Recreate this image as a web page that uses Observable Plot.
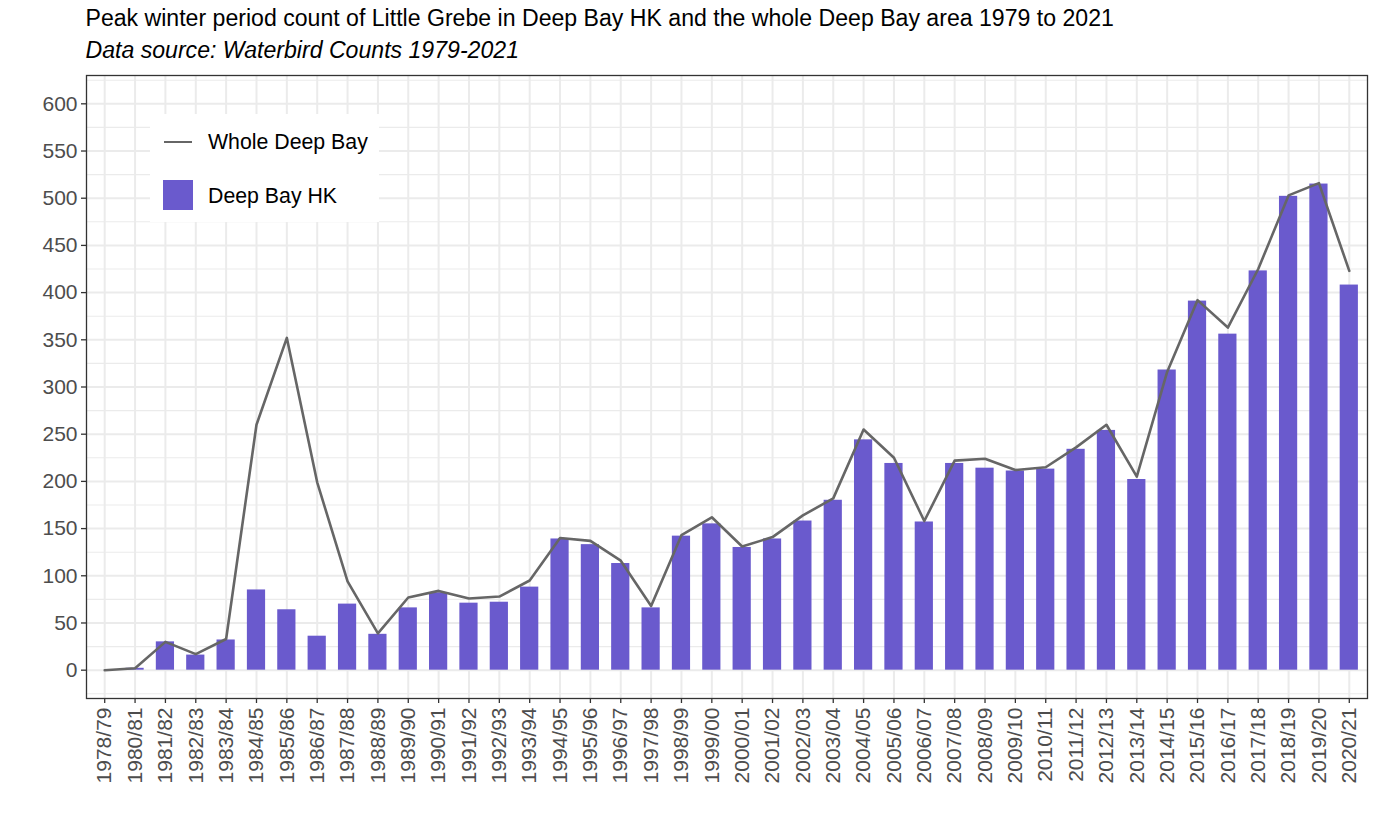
<!DOCTYPE html>
<html>
<head>
<meta charset="utf-8">
<script src="https://cdn.jsdelivr.net/npm/d3@7"></script>
<script src="https://cdn.jsdelivr.net/npm/@observablehq/plot@0.6"></script>
<style>
  html, body { margin: 0; padding: 0; background: #fff; overflow: hidden; }
  #wrap { position: relative; width: 1378px; height: 827px; font-family: "Liberation Sans", Arial, sans-serif; }
  #title { position: absolute; left: 85.5px; top: 7.2px; font-size: 23.1px; line-height: 23px; color: #000; white-space: nowrap; }
  #subtitle { position: absolute; left: 85.5px; top: 38.8px; font-size: 23.1px; line-height: 23px; font-style: italic; color: #000; white-space: nowrap; }
  #chart { position: absolute; left: 0; top: 66px; }
  #legend { position: absolute; left: 150px; top: 114px; width: 229px; height: 108px; background: #fff; }
  .lg-line { position: absolute; left: 14px; top: 26.5px; width: 28px; height: 2.5px; background: #666666; }
  .lg-rect { position: absolute; left: 13px; top: 66px; width: 30px; height: 30px; background: #6A5ACD; }
  .lg-text { position: absolute; left: 58px; font-size: 21.3px; line-height: 21px; color: #000; white-space: nowrap; }
</style>
</head>
<body>
<div id="wrap">
  <div id="title">Peak winter period count of Little Grebe in Deep Bay HK and the whole Deep Bay area 1979 to 2021</div>
  <div id="subtitle">Data source: Waterbird Counts 1979-2021</div>
  <div id="chart"></div>
  <div id="legend">
    <div class="lg-line"></div>
    <div class="lg-text" style="top:17.5px">Whole Deep Bay</div>
    <div class="lg-rect"></div>
    <div class="lg-text" style="top:71.5px">Deep Bay HK</div>
  </div>
</div>
<script>
const seasons = ["1978/79","1980/81","1981/82","1982/83","1983/84","1984/85","1985/86","1986/87","1987/88","1988/89",
  "1989/90","1990/91","1991/92","1992/93","1993/94","1994/95","1995/96","1996/97","1997/98","1998/99",
  "1999/00","2000/01","2001/02","2002/03","2003/04","2004/05","2005/06","2006/07","2007/08","2008/09",
  "2009/10","2010/11","2011/12","2012/13","2013/14","2014/15","2015/16","2016/17","2017/18","2018/19",
  "2019/20","2020/21"];
const deepBayHK = [0,2,30,16,32,85,64,36,70,38,
  66,82,71,72,88,139,133,113,66,142,
  155,130,139,158,180,244,219,157,219,214,
  211,213,234,254,202,318,391,356,423,502,
  515,408];
const wholeDeepBay = [0,2,30,17,33,260,352,199,94,39,
  77,84,76,78,95,140,137,116,68,143,
  162,131,141,164,182,255,225,158,222,224,
  212,215,236,260,205,316,392,363,425,503,
  516,423];
const yMajorTicks = [0,50,100,150,200,250,300,350,400,450,500,550,600];
const yMinorTicks = [-25,25,75,125,175,225,275,325,375,425,475,525,575,625];

const data = seasons.map((s, i) => ({season: s, hk: deepBayHK[i], whole: wholeDeepBay[i]}));

const chart = Plot.plot({
  width: 1378,
  height: 761,
  marginTop: 9,
  marginBottom: 129,
  marginLeft: 86,
  marginRight: 11,
  style: {fontFamily: "Liberation Sans, Arial, sans-serif", background: "transparent"},
  x: {type: "band", domain: seasons, paddingInner: 0.4, paddingOuter: 0.3, round: false, axis: null},
  y: {domain: [-30, 630], axis: null},
  marks: [
    Plot.ruleY(yMinorTicks, {stroke: "#EBEBEB", strokeWidth: 1.1}),
    Plot.ruleY(yMajorTicks, {stroke: "#EBEBEB", strokeWidth: 2}),
    Plot.ruleX(seasons, {stroke: "#EBEBEB", strokeWidth: 2}),
    Plot.barY(data, {x: "season", y: "hk", fill: "#6A5ACD"}),
    Plot.lineY(data, {x: "season", y: "whole", stroke: "#666666", strokeWidth: 2.6}),
    Plot.frame({stroke: "#333333", strokeWidth: 1.3}),
    Plot.axisY(yMajorTicks, {tickSize: 5, tickPadding: 4, fontSize: 21, stroke: "#333333", strokeWidth: 1.3, fill: "#4D4D4D", label: null}),
    Plot.axisX(seasons, {tickSize: 5, tickPadding: 4, fontSize: 21, tickRotate: -90, stroke: "#333333", strokeWidth: 1.3, fill: "#4D4D4D", label: null})
  ]
});
document.getElementById("chart").appendChild(chart);
</script>
</body>
</html>
